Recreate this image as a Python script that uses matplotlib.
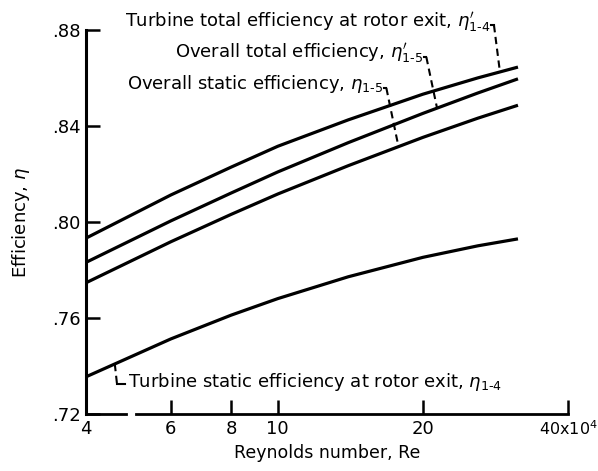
import matplotlib.pyplot as plt
import numpy as np

plt.rcParams["font.family"] = ["DejaVu Sans"]
plt.rcParams["mathtext.fontset"] = "dejavusans"

# Reynolds number (x10^4) and efficiencies
re = [4, 6, 8, 10, 14, 20, 26, 31.5]
turb_total = [0.7933, 0.8113, 0.8229, 0.8316, 0.8426, 0.8533, 0.8601, 0.8646]
overall_total = [0.7832, 0.8005, 0.8121, 0.8209, 0.8331, 0.8453, 0.8538, 0.8597]
overall_static = [0.7747, 0.7918, 0.8032, 0.8117, 0.8235, 0.8353, 0.8433, 0.8487]
turb_static = [0.7355, 0.7513, 0.7612, 0.7681, 0.7772, 0.7853, 0.7901, 0.7930]

x_ticks = [4, 6, 8, 10, 20, 40]
x_ticklabels = ["4", "6", "8", "10", "20", "40x10$^4$"]
y_ticks = [0.72, 0.76, 0.80, 0.84, 0.88]
y_ticklabels = [".72", ".76", ".80", ".84", ".88"]

fig = plt.figure(figsize=(5.98, 4.71), dpi=100)
ax = fig.add_axes([0.1438, 0.121, 0.806, 0.815])

for ys in (turb_total, overall_total, overall_static, turb_static):
    ax.plot(re, ys, color="black", linewidth=2.3, solid_capstyle="butt")

ax.set_xscale("log")
ax.set_xlim(4, 40)
ax.set_ylim(0.72, 0.88)
ax.set_xticks(x_ticks)
ax.set_xticklabels(x_ticklabels)
ax.xaxis.set_minor_locator(plt.NullLocator())
ax.set_yticks(y_ticks)
ax.set_yticklabels(y_ticklabels)
ax.tick_params(direction="in", length=10, width=1.8, labelsize=13, pad=4)
# the last label is narrower in the original so it stays inside the figure
last = ax.get_xticklabels()[-1]
last.set_fontsize(11.5)
last.set_horizontalalignment("left")
last.set_x(0)
ax.xaxis.get_major_ticks()[-1].label1.set_horizontalalignment("center")

for s in ("top", "right", "bottom"):
    ax.spines[s].set_visible(False)
ax.spines["left"].set_linewidth(2.2)
# bottom axis line drawn with a small break like the original
for x0, x1 in ((0.0, 0.083), (0.104, 1.0)):
    ax.plot([x0, x1], [0, 0], color="black", linewidth=2,
            transform=ax.transAxes, clip_on=False)

ax.set_xlabel("Reynolds number, Re", fontsize=12.5, labelpad=4)
ax.set_ylabel(r"Efficiency, $\eta$", fontsize=13, labelpad=14)


def on_curve(xv, ys):
    return np.interp(np.log10(xv), np.log10(re), ys)


dash = dict(color="black", linewidth=1.5, linestyle=(0, (3.5, 2.2)))

# top labels: text, y, x of leader end on curve, curve, x of text start
labels = [
    ("Turbine total efficiency at rotor exit, $\\eta_{1\u20104}^{\\prime}$",
     0.8836, 28.9, turb_total, 4.82),
    ("Overall total efficiency, $\\eta_{1\u20105}^{\\prime}$",
     0.8703, 21.4, overall_total, 6.12),
    ("Overall static efficiency, $\\eta_{1\u20105}$",
     0.8574, 17.8, overall_static, 4.86),
]
fig.canvas.draw()
for txt, ty, xe, ys, tx in labels:
    t = ax.text(tx, ty, txt, ha="left", va="center", fontsize=13)
    bb = t.get_window_extent(fig.canvas.get_renderer()).transformed(
        ax.transData.inverted())
    xs = bb.x1 * 1.004
    xh = xs * 1.012
    yh = ty - 0.0015
    ax.plot([xs, xh], [yh, yh], color="black", linewidth=1.5, clip_on=False)
    ax.plot([xh, xe], [yh, on_curve(xe, ys)], clip_on=False, **dash)

# bottom label
yb = 0.7333
ax.text(4.89, yb, "Turbine static efficiency at rotor exit, $\\eta_{1\u20104}$",
        ha="left", va="center", fontsize=13)
xb = 4.59
ax.plot([xb, 4.64], [on_curve(xb, turb_static), yb - 0.001], **dash)
ax.plot([4.64, 4.82], [yb - 0.001, yb - 0.001], color="black", linewidth=1.5)

fig.savefig("out.png", dpi=100)
